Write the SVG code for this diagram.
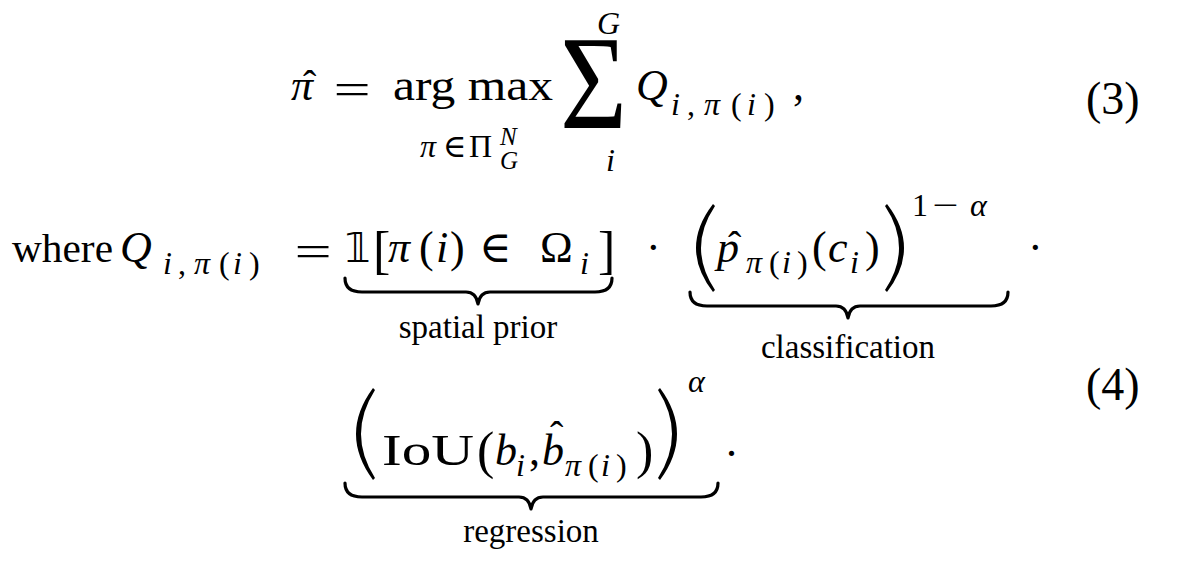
<svg xmlns="http://www.w3.org/2000/svg" width="1178" height="568" viewBox="0 0 1178 568">
<style>
text{font-family:"Liberation Serif","DejaVu Serif",serif;fill:#000}
.it{font-style:italic}
.m{font-size:44px}
.s{font-size:32px}
.ss{font-size:25px}
.lbl{font-size:33px}
.num{font-size:46px}
.hat{font-size:40px;font-family:"Liberation Serif",serif}
.br{fill:none;stroke:#000;stroke-width:3.2;stroke-linecap:round;stroke-linejoin:round}
.pr{fill:#000}
</style>
<rect width="1178" height="568" fill="#fff"/>
<g id="eq3">
  <text class="m it" x="291" y="100">π</text>
  <text class="hat" x="303" y="98">ˆ</text>
  <text class="m" transform="translate(352,104) scale(1.5,1)" text-anchor="middle">=</text>
  <text class="m" x="393" y="100" textLength="160" lengthAdjust="spacingAndGlyphs">arg max</text>
  <text class="s it" x="420" y="157">π</text>
  <text class="s" x="443" y="157">∈</text>
  <text class="s" x="469" y="157">Π</text>
  <text class="ss it" x="500" y="145">N</text>
  <text class="ss it" x="500" y="169">G</text>
  <text transform="translate(560,128) scale(0.86,1)" style="font-size:134px">Σ</text>
  <text class="s it" x="597" y="34">G</text>
  <text class="s it" x="606" y="171">i</text>
  <text class="m it" x="636" y="100">Q</text>
  <text class="s it" x="671" y="115">i</text>
  <text class="s" x="687" y="115">,</text>
  <text class="s it" x="704" y="115">π</text>
  <text class="s" x="731" y="115">(</text>
  <text class="s it" x="747" y="115">i</text>
  <text class="s" x="764" y="115">)</text>
  <text class="m" x="793" y="100">,</text>
  <text class="num" x="1086" y="114">(3)</text>
</g>
<g id="eq4-line1">
  <text class="m" x="12" y="262" textLength="101" lengthAdjust="spacingAndGlyphs" style="font-size:41px">where</text>
  <text class="m it" x="120" y="262">Q</text>
  <text class="s it" x="163" y="274">i</text>
  <text class="s" x="178" y="274">,</text>
  <text class="s it" x="194" y="274">π</text>
  <text class="s" x="219" y="274">(</text>
  <text class="s it" x="233" y="274">i</text>
  <text class="s" x="249" y="274">)</text>
  <text class="m" transform="translate(313,266) scale(1.5,1)" text-anchor="middle">=</text>
  <text class="m" x="345" y="262" style="font-family:'DejaVu Sans',sans-serif;font-size:40px">𝟙</text>
  <text class="m" x="373" y="268" style="font-size:52px">[</text>
  <text class="m it" x="388" y="262">π</text>
  <text class="m" x="419" y="262">(</text>
  <text class="m it" x="436" y="262">i</text>
  <text class="m" x="450" y="262">)</text>
  <text class="m" x="479" y="262">∈</text>
  <text class="m" x="540" y="262">Ω</text>
  <text class="s it" x="580" y="274">i</text>
  <text class="m" x="598" y="268" style="font-size:52px">]</text>
  <path class="br" d="M345,278 Q345,292 362,292 L466,292 Q476,292 478,304 Q480,292 490,292 L595,292 Q612,292 612,278"/>
  <text class="lbl" x="478" y="338" text-anchor="middle">spatial prior</text>
  <text class="m" x="646" y="262">·</text>
  <path class="pr" d="M713,204 Q679,248 713,292 L715,290 Q687,248 715,206 Z"/>
  <text class="m it" x="717" y="262">p</text>
  <text class="hat" x="728" y="259">ˆ</text>
  <text class="s it" x="746" y="273">π</text>
  <text class="s" x="769" y="273">(</text>
  <text class="s it" x="782" y="273">i</text>
  <text class="s" x="797" y="273">)</text>
  <text class="m" x="812" y="262">(</text>
  <text class="m it" x="828" y="262">c</text>
  <text class="s it" x="850" y="273">i</text>
  <text class="m" x="865" y="262">)</text>
  <path class="pr" d="M887,204 Q921,248 887,292 L885,290 Q913,248 885,206 Z"/>
  <text class="s" x="912" y="216">1</text>
  <text class="s" transform="translate(932,216) scale(1.45,1)">−</text>
  <text class="s it" x="970" y="216">α</text>
  <text class="m" x="1028" y="262">·</text>
  <path class="br" d="M690,292 Q690,306 707,306 L836,306 Q846,306 848,318 Q850,306 860,306 L991,306 Q1008,306 1008,292"/>
  <text class="lbl" x="848" y="358" text-anchor="middle">classification</text>
  <text class="num" x="1086" y="400">(4)</text>
</g>
<g id="eq4-line2">
  <path class="pr" d="M373,388 Q339,434 373,480 L375,478 Q347,434 375,390 Z"/>
  <text class="m" x="382" y="465" textLength="92" lengthAdjust="spacingAndGlyphs">IoU</text>
  <text class="m" x="477" y="468" style="font-size:52px">(</text>
  <text class="m it" x="495" y="465">b</text>
  <text class="s it" x="516" y="476">i</text>
  <text class="m" x="529" y="465">,</text>
  <text class="m it" x="542" y="465">b</text>
  <text class="hat" x="550" y="449">ˆ</text>
  <text class="s it" x="565" y="476">π</text>
  <text class="s" x="588" y="476">(</text>
  <text class="s it" x="601" y="476">i</text>
  <text class="s" x="616" y="476">)</text>
  <text class="m" x="636" y="468" style="font-size:52px">)</text>
  <path class="pr" d="M660,388 Q694,434 660,480 L658,478 Q686,434 658,390 Z"/>
  <text class="s it" x="688" y="392">α</text>
  <text class="m" x="726" y="456">.</text>
  <path class="br" d="M345,483 Q345,497 362,497 L519,497 Q529,497 531,509 Q533,497 543,497 L701,497 Q718,497 718,483"/>
  <text class="lbl" x="531" y="542" text-anchor="middle">regression</text>
</g>
</svg>
